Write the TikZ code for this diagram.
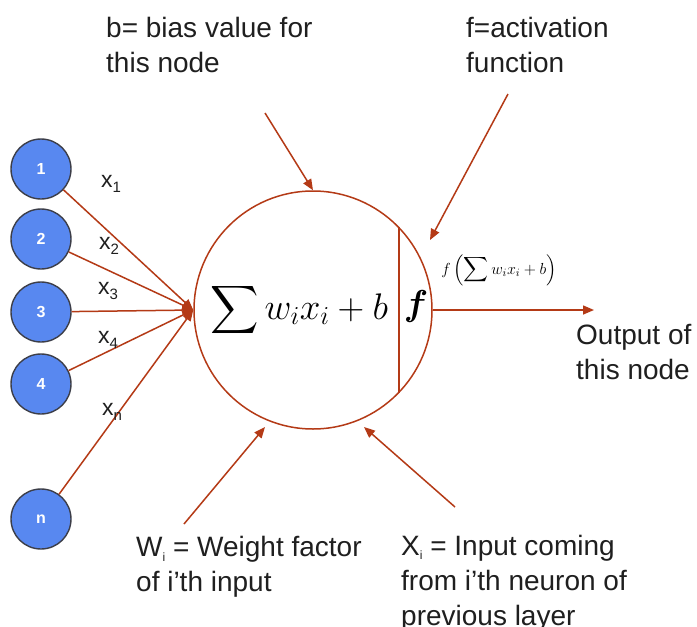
\documentclass[tikz,border=0pt]{standalone}
\usepackage{fix-cm}
\usepackage{amsmath}
\usepackage{bm}
\usepackage{graphicx}
\usepackage{fontspec}
\setmainfont{Liberation Sans}
\usetikzlibrary{arrows.meta}
\definecolor{wire}{RGB}{180,58,22}
\definecolor{inblue}{RGB}{88,136,240}
\definecolor{inedge}{RGB}{60,62,72}
\newcommand\mysub[1]{\raisebox{-0.35ex}{\fontsize{15}{15}\selectfont #1}}
\newcommand\tinysub[1]{\raisebox{-0.3ex}{\fontsize{12}{12}\selectfont #1}}
\newcommand\bigsum{\mathop{\vcenter{\hbox{\scalebox{1.35}{$\displaystyle\sum$}}}}}
\tikzset{
  inp/.style={circle, draw=inedge, line width=1.4pt, fill=inblue, minimum size=60pt, inner sep=0pt,
              text=white, font=\fontsize{16}{16}\selectfont\bfseries},
  wireline/.style={draw=wire, line width=1.5pt},
  arr/.style={wireline, -{Triangle[length=11pt,width=9pt]}},
  lbl/.style={font=\fontsize{28}{35}\selectfont, align=left, inner sep=0pt, text=black!88},
  xlbl/.style={font=\fontsize{23}{23}\selectfont, inner sep=0pt, text=black!88},
}
\begin{document}
\begin{tikzpicture}[x=1pt,y=-1pt]
\useasboundingbox (0,0) rectangle (697,627);
\fill[white] (0,0) rectangle (697,627);

% input nodes
\node[inp] (n1) at (41,169) {1};
\node[inp] (n2) at (41,239) {2};
\node[inp] (n3) at (41,312) {3};
\node[inp] (n4) at (41,384) {4};
\node[inp] (nn) at (41,519) {n};

% neuron
\node[circle, draw=wire, line width=1.5pt, minimum size=238pt, inner sep=0pt] (neuron) at (313,310) {};
\draw[wireline] (neuron.44.4) -- (neuron.-44.4);

\node[inner sep=0pt] (sumexpr) at (299,310) {\fontsize{37}{42}\selectfont $\bigsum w_i x_i + b$};
\node[inner sep=0pt] (fsym) at (416,306) {\fontsize{36}{40}\selectfont $\bm{f}$};

% input connectors
\foreach \n in {n1,n2,n3,n4,nn}
  \draw[arr] (\n) -- (neuron.west);

% input labels
\node[xlbl] (x1) at (111,184) {x\mysub{1}};
\node[xlbl] (x2) at (109,246) {x\mysub{2}};
\node[xlbl] (x3) at (108,291) {x\mysub{3}};
\node[xlbl] (x4) at (108,340) {x\mysub{4}};
\node[xlbl] (xn) at (112,412) {x\mysub{n}};

% output
\coordinate (outtip) at (594,310);
\draw[arr] (neuron.east) -- (outtip);
\node[inner sep=0pt] (fout) at (499,270) {\fontsize{16}{18}\selectfont $f\left(\displaystyle\sum w_i x_i + b\right)$};
\node[lbl, anchor=west] (outtxt) at (576,352) {Output of\\this node};

% annotations
\node[lbl, anchor=west] (btxt) at (106,45) {b= bias value for\\this node};
\coordinate (bstart) at (265,113);
\draw[arr] (bstart) -- (neuron.north);

\node[lbl, anchor=west] (ftxt) at (466,45) {f=activation\\function};
\coordinate (fstart) at (508,94);
\coordinate (ftip) at (430,240);
\draw[arr] (fstart) -- (ftip);

\node[lbl, anchor=west] (wtxt) at (136,567) {W\tinysub{i} = Weight factor\\of i’th input};
\coordinate (wstart) at (184,524);
\coordinate (wtip) at (265,427);
\draw[arr] (wstart) -- (wtip);

\node[lbl, anchor=west] (xtxt) at (401,583) {X\tinysub{i} = Input coming\\from i’th neuron of\\previous layer};
\coordinate (xstart) at (455,507);
\coordinate (xtip) at (364,427);
\draw[arr] (xstart) -- (xtip);
\end{tikzpicture}
\end{document}
